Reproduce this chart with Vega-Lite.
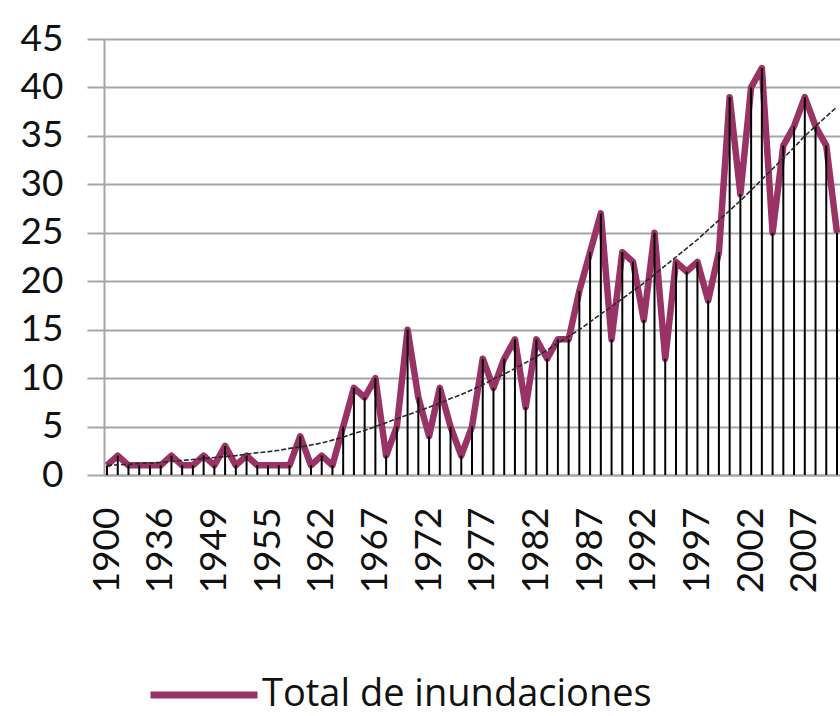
{
  "$schema": "https://vega.github.io/schema/vega-lite/v6.json",
  "width": 736,
  "height": 436,
  "autosize": {"type": "none"},
  "padding": {"left": 104, "top": 39, "right": 0, "bottom": 241},
  "background": "white",
  "config": {
    "view": {"stroke": null},
    "font": "Lato",
    "axis": {"labelFont": "Lato", "labelFontSize": 37, "labelColor": "#111111", "gridColor": "#a6a6a6", "gridWidth": 2, "domainColor": "#a6a6a6", "domainWidth": 2, "tickColor": "#a6a6a6", "tickWidth": 2}
  },
  "data": {"values": [
    {"year": 1900, "v": 1, "t": 1.0},
    {"year": 1906, "v": 2, "t": 1.05},
    {"year": 1915, "v": 1, "t": 1.1},
    {"year": 1926, "v": 1, "t": 1.2},
    {"year": 1933, "v": 1, "t": 1.25},
    {"year": 1936, "v": 1, "t": 1.3},
    {"year": 1939, "v": 2, "t": 1.4},
    {"year": 1943, "v": 1, "t": 1.5},
    {"year": 1944, "v": 1, "t": 1.6},
    {"year": 1947, "v": 2, "t": 1.7},
    {"year": 1949, "v": 1, "t": 1.8},
    {"year": 1950, "v": 3, "t": 1.9},
    {"year": 1951, "v": 1, "t": 2.0},
    {"year": 1953, "v": 2, "t": 2.15},
    {"year": 1954, "v": 1, "t": 2.3},
    {"year": 1955, "v": 1, "t": 2.4},
    {"year": 1957, "v": 1, "t": 2.55},
    {"year": 1958, "v": 1, "t": 2.75},
    {"year": 1959, "v": 4, "t": 2.9},
    {"year": 1961, "v": 1, "t": 3.1},
    {"year": 1962, "v": 2, "t": 3.3},
    {"year": 1963, "v": 1, "t": 3.6},
    {"year": 1964, "v": 5, "t": 3.9},
    {"year": 1965, "v": 9, "t": 4.3},
    {"year": 1966, "v": 8, "t": 4.6},
    {"year": 1967, "v": 10, "t": 5.0},
    {"year": 1968, "v": 2, "t": 5.4},
    {"year": 1969, "v": 5, "t": 5.8},
    {"year": 1970, "v": 15, "t": 6.2},
    {"year": 1971, "v": 8, "t": 6.6},
    {"year": 1972, "v": 4, "t": 7.0},
    {"year": 1973, "v": 9, "t": 7.4},
    {"year": 1974, "v": 5, "t": 7.9},
    {"year": 1975, "v": 2, "t": 8.3},
    {"year": 1976, "v": 5, "t": 8.8},
    {"year": 1977, "v": 12, "t": 9.3},
    {"year": 1978, "v": 9, "t": 9.9},
    {"year": 1979, "v": 12, "t": 10.4},
    {"year": 1980, "v": 14, "t": 11.0},
    {"year": 1981, "v": 7, "t": 11.6},
    {"year": 1982, "v": 14, "t": 12.2},
    {"year": 1983, "v": 12, "t": 12.9},
    {"year": 1984, "v": 14, "t": 13.6},
    {"year": 1985, "v": 14, "t": 14.3},
    {"year": 1986, "v": 19, "t": 15.0},
    {"year": 1987, "v": 23, "t": 15.8},
    {"year": 1988, "v": 27, "t": 16.6},
    {"year": 1989, "v": 14, "t": 17.4},
    {"year": 1990, "v": 23, "t": 18.2},
    {"year": 1991, "v": 22, "t": 19.0},
    {"year": 1992, "v": 16, "t": 19.8},
    {"year": 1993, "v": 25, "t": 20.7},
    {"year": 1994, "v": 12, "t": 21.6},
    {"year": 1995, "v": 22, "t": 22.5},
    {"year": 1996, "v": 21, "t": 23.4},
    {"year": 1997, "v": 22, "t": 24.3},
    {"year": 1998, "v": 18, "t": 25.3},
    {"year": 1999, "v": 23, "t": 26.3},
    {"year": 2000, "v": 39, "t": 27.3},
    {"year": 2001, "v": 29, "t": 28.3},
    {"year": 2002, "v": 40, "t": 29.4},
    {"year": 2003, "v": 42, "t": 30.5},
    {"year": 2004, "v": 25, "t": 31.6},
    {"year": 2005, "v": 34, "t": 32.7},
    {"year": 2006, "v": 36, "t": 33.8},
    {"year": 2007, "v": 39, "t": 35.0},
    {"year": 2008, "v": 36, "t": 36.0},
    {"year": 2009, "v": 34, "t": 37.0},
    {"year": 2010, "v": 25, "t": 38.0}
  ]},
  "encoding": {
    "x": {
      "field": "year", "type": "ordinal",
      "scale": {"type": "point", "padding": 0.2795},
      "axis": {"title": null, "values": [1900, 1936, 1949, 1955, 1962, 1967, 1972, 1977, 1982, 1987, 1992, 1997, 2002, 2007], "labelAngle": 270, "ticks": false, "labelPadding": 32, "grid": false, "domain": true}
    }
  },
  "layer": [
    {
      "mark": {"type": "line", "strokeWidth": 6.5, "strokeJoin": "round", "strokeCap": "butt"},
      "encoding": {
        "y": {"field": "v", "type": "quantitative", "scale": {"domain": [0, 45], "nice": false, "zero": true},
          "axis": {"title": null, "values": [0, 5, 10, 15, 20, 25, 30, 35, 40, 45], "tickSize": 17, "labelPadding": 24, "grid": true, "domain": true}},
        "color": {"datum": "Total de inundaciones", "type": "nominal", "scale": {"range": ["#993366"]},
          "legend": {"title": null, "orient": "none", "legendX": 43, "legendY": 599, "symbolType": "stroke", "symbolSize": 11449, "symbolStrokeWidth": 7, "labelFont": "Open Sans", "labelFontSize": 38, "labelColor": "#111111", "labelOffset": 1, "labelLimit": 700, "padding": 0}}
      }
    },
    {
      "mark": {"type": "rule", "color": "#000000", "strokeWidth": 2},
      "encoding": {
        "y": {"field": "v", "type": "quantitative"},
        "y2": {"datum": 0}
      }
    },
    {
      "mark": {"type": "line", "color": "#2a2a2a", "strokeWidth": 1.6, "strokeDash": [5, 2]},
      "encoding": {
        "y": {"field": "t", "type": "quantitative"}
      }
    }
  ]
}
